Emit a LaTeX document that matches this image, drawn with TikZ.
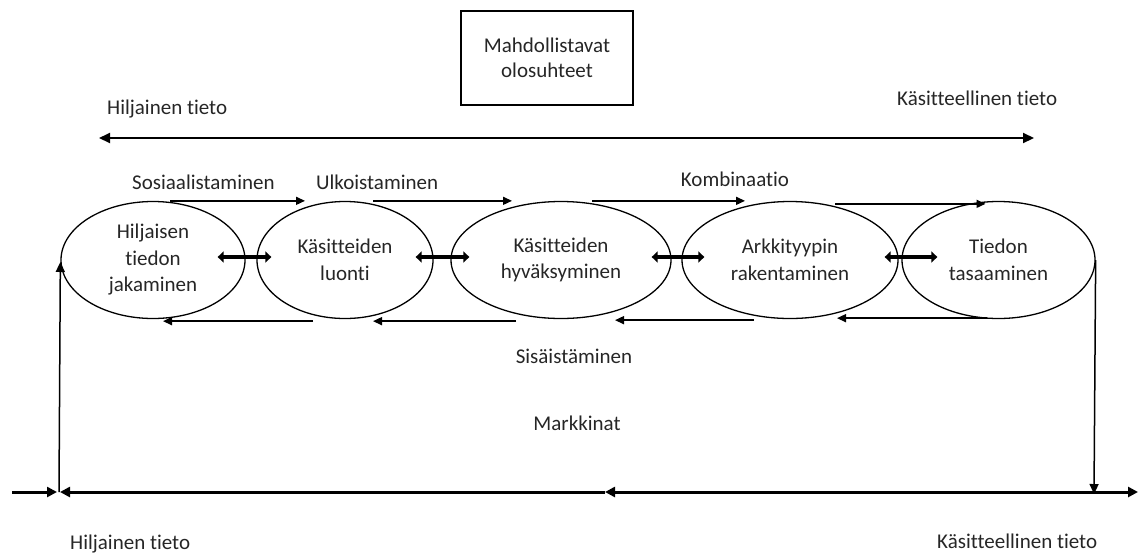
\documentclass[tikz,border=0pt]{standalone}
\usepackage{fontspec}
\setmainfont{Carlito}[Ligatures={NoCommon,NoRare,NoContextual}]
\usetikzlibrary{shapes.geometric,arrows.meta}

\tikzset{
  lbl/.style={inner sep=0pt, text=black!85, font=\fontsize{21}{26}\selectfont},
  phase/.style={ellipse, draw, line width=1.3pt, inner sep=0pt, align=center,
    text=black!85, font=\fontsize{21}{26.5}\selectfont},
  condbox/.style={draw, line width=1.6pt, minimum width=172pt, minimum height=94pt,
    align=center, text=black!85, font=\fontsize{21}{25}\selectfont},
  flow/.style={line width=1.5pt, -{Triangle[length=9pt,width=8pt]}},
  swap/.style={line width=4.5pt, {Triangle[length=6pt,width=11pt]}-{Triangle[length=6pt,width=11pt]}},
  axis/.style={line width=2pt, {Triangle[length=11pt,width=10pt]}-{Triangle[length=11pt,width=10pt]}},
  base/.style={line width=3pt, -{Triangle[length=10pt,width=10pt]}},
  feed/.style={line width=1.5pt, -{Triangle[length=10pt,width=9pt]}}
}

\begin{document}
\begin{tikzpicture}[x=1pt, y=-1pt]
\useasboundingbox (0,0) rectangle (1139,555);

% enabling conditions
\node[condbox] (cond) at (547,58) {Mahdollistavat\\olosuhteet};

% upper axis
\node[lbl, anchor=base west] (tacitT) at (107,114) {Hiljainen tieto};
\node[lbl, anchor=base west] (explT) at (897,105) {Käsitteellinen tieto};
\coordinate (tL) at (99,138);
\coordinate (tR) at (1034,138);
\draw[axis] (tL) -- (tR);

% conversion mode labels
\node[lbl, anchor=base west] (soc) at (132,189) {Sosiaalistaminen};
\node[lbl, anchor=base west] (ext) at (316,189) {Ulkoistaminen};
\node[lbl, anchor=base] (comb) at (735,186) {Kombinaatio};
\node[lbl, anchor=base] (intl) at (574,363) {Sisäistäminen};
\node[lbl, anchor=base] (mkt) at (577,430) {Markkinat};

% phases
\node[phase, minimum width=184pt, minimum height=117pt] (e1) at (153,260) {Hiljaisen\\tiedon\\jakaminen};
\node[phase, minimum width=176pt, minimum height=117pt] (e2) at (345,260) {Käsitteiden\\luonti};
\node[phase, minimum width=220pt, minimum height=117pt] (e3) at (561,260) {Käsitteiden\\hyväksyminen};
\node[phase, minimum width=216pt, minimum height=117pt] (e4) at (790,260) {Arkkityypin\\rakentaminen};
\node[phase, minimum width=193pt, minimum height=117pt] (e5) at (998.5,260) {Tiedon\\tasaaminen};

% forward arrows along the top
\draw[flow] ([xshift=17pt]e1.north) -- ([xshift=-40pt]e2.north);
\draw[flow] ([xshift=28pt]e2.north) -- ([xshift=-49pt]e3.north);
\draw[flow] ([xshift=31pt]e3.north) -- ([xshift=-45pt]e4.north);
\draw[flow] ([xshift=45pt,yshift=-3pt]e4.north) -- ([xshift=-13pt,yshift=-3pt]e5.north);

% backward arrows along the bottom
\draw[flow] ([xshift=-32pt,yshift=-2pt]e2.south) -- ([xshift=10pt,yshift=-2pt]e1.south);
\draw[flow] ([xshift=-45pt,yshift=-2pt]e3.south) -- ([xshift=28pt,yshift=-2pt]e2.south);
\draw[flow] ([xshift=-36pt,yshift=-1pt]e4.south) -- ([xshift=54pt,yshift=-1pt]e3.south);
\draw[flow] ([xshift=-12pt,yshift=1pt]e5.south) -- ([xshift=47pt,yshift=1pt]e4.south);

% exchange between neighbouring phases
\draw[swap] ([xshift=-28pt,yshift=3pt]e1.east) -- ([xshift=15pt,yshift=3pt]e2.west);
\draw[swap] ([xshift=-18pt,yshift=3pt]e2.east) -- ([xshift=19pt,yshift=3pt]e3.west);
\draw[swap] ([xshift=-20pt,yshift=3pt]e3.east) -- ([xshift=23pt,yshift=3pt]e4.west);
\draw[swap] ([xshift=-14pt,yshift=3pt]e4.east) -- ([xshift=36pt,yshift=3pt]e5.west);

% market axis
\coordinate (bL) at (12,492);
\coordinate (bLj) at (59,492);
\coordinate (bM) at (605,492);
\coordinate (bJ) at (1047,492);
\coordinate (bR) at (1138,492);
\coordinate (bRj) at (1094,492);
\draw[base] (bL) -- ([xshift=-2pt]bLj);
\draw[base] (bJ) -- (bM);
\draw[base] (bM) -- ([xshift=1pt]bLj);
\draw[base] (bJ) -- (bR);

% feedback from and to the market
\draw[feed] (bLj) -- ([yshift=-2pt]e1.west);
\draw[feed] (e5.east) -- ([yshift=-2pt]bRj);

\node[lbl, anchor=base west] (tacitB) at (70,549) {Hiljainen tieto};
\node[lbl, anchor=base west] (explB) at (937,548) {Käsitteellinen tieto};
\end{tikzpicture}
\end{document}
